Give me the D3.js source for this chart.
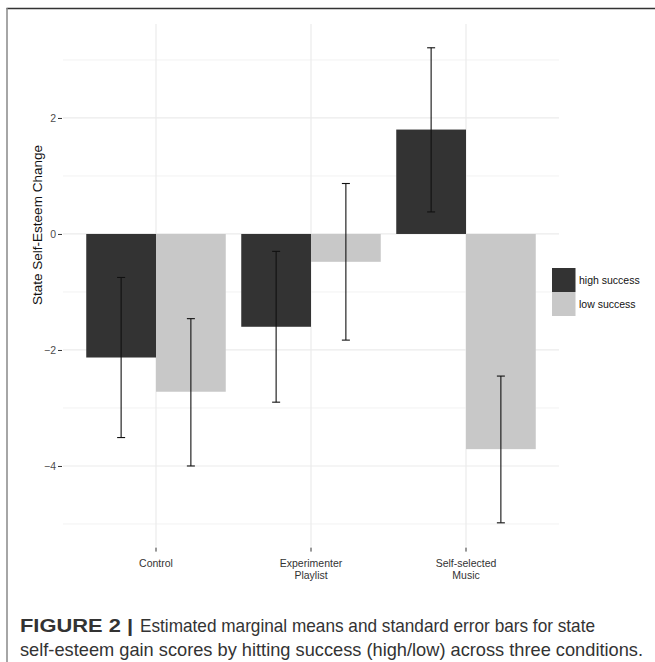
<!DOCTYPE html>
<html>
<head>
<meta charset="utf-8">
<script src="https://cdn.jsdelivr.net/npm/d3@7"></script>
<style>
  html, body { margin: 0; padding: 0; background: #fff; }
  svg { display: block; }
</style>
</head>
<body>
<script>
// ---- data ----
const categories = ["Control", "Experimenter\nPlaylist", "Self-selected\nMusic"];
const seriesNames = ["high success", "low success"];
const highMeans = [-2.13, -1.60, 1.80];
const highLower = [-3.51, -2.90, 0.38];
const highUpper = [-0.75, -0.30, 3.21];
const lowMeans = [-2.72, -0.48, -3.71];
const lowLower = [-4.00, -1.83, -4.98];
const lowUpper = [-1.46, 0.87, -2.45];
const yTicks = [-4, -2, 0, 2];
const yMinorTicks = [-5, -3, -1, 1, 3];

const W = 655, H = 662;
const svg = d3.select("body").append("svg").attr("width", W).attr("height", H);

// frame lines
svg.append("line").attr("x1", 6.5).attr("x2", W).attr("y1", 8.5).attr("y2", 8.5)
  .attr("stroke", "#333").attr("stroke-width", 1.5);
svg.append("line").attr("x1", 7).attr("x2", 7).attr("y1", 8).attr("y2", H)
  .attr("stroke", "#888").attr("stroke-width", 1.5);

const panel = {left: 63, right: 559, top: 24, bottom: 546.6};

const x = d3.scaleBand().domain(categories).range([panel.left, panel.right])
  .paddingInner(0.1).paddingOuter(0.15);
const xs = d3.scaleBand().domain(seriesNames).range([0, x.bandwidth()]);
const y = d3.scaleLinear().domain([-5.39, 3.62]).range([panel.bottom, panel.top]);
const color = d3.scaleOrdinal().domain(seriesNames).range(["#333333", "#c8c8c8"]);

// gridlines
const g = svg.append("g");
g.selectAll(".minor").data(yMinorTicks).join("line")
  .attr("x1", panel.left).attr("x2", panel.right)
  .attr("y1", d => y(d)).attr("y2", d => y(d))
  .attr("stroke", "#f2f2f2").attr("stroke-width", 1);
g.selectAll(".major").data(yTicks).join("line")
  .attr("x1", panel.left).attr("x2", panel.right)
  .attr("y1", d => y(d)).attr("y2", d => y(d))
  .attr("stroke", "#ebebeb").attr("stroke-width", 1.2);
g.selectAll(".vmajor").data(categories).join("line")
  .attr("x1", d => x(d) + x.bandwidth() / 2).attr("x2", d => x(d) + x.bandwidth() / 2)
  .attr("y1", panel.top).attr("y2", panel.bottom)
  .attr("stroke", "#ebebeb").attr("stroke-width", 1.2);

// bars
const rows = [];
categories.forEach((c, i) => {
  rows.push({cat: c, s: seriesNames[0], v: highMeans[i], lo: highLower[i], hi: highUpper[i]});
  rows.push({cat: c, s: seriesNames[1], v: lowMeans[i], lo: lowLower[i], hi: lowUpper[i]});
});
svg.append("g").selectAll("rect").data(rows).join("rect")
  .attr("x", d => x(d.cat) + xs(d.s))
  .attr("width", xs.bandwidth())
  .attr("y", d => y(Math.max(0, d.v)))
  .attr("height", d => Math.abs(y(d.v) - y(0)))
  .attr("fill", d => color(d.s));

// error bars
const eb = svg.append("g").attr("stroke", "#111").attr("stroke-width", 1.1);
rows.forEach(d => {
  const cx = x(d.cat) + xs(d.s) + xs.bandwidth() / 2;
  eb.append("line").attr("x1", cx).attr("x2", cx).attr("y1", y(d.lo)).attr("y2", y(d.hi));
  eb.append("line").attr("x1", cx - 4).attr("x2", cx + 4).attr("y1", y(d.lo)).attr("y2", y(d.lo));
  eb.append("line").attr("x1", cx - 4).attr("x2", cx + 4).attr("y1", y(d.hi)).attr("y2", y(d.hi));
});

// y axis
const yAxis = svg.append("g").attr("transform", `translate(${panel.left - 1},0)`)
  .call(d3.axisLeft(y).tickValues(yTicks).tickSize(4).tickPadding(2).tickFormat(d3.format("d")));
yAxis.select(".domain").remove();
yAxis.selectAll("line").attr("stroke", "#333");
yAxis.selectAll("text").attr("font-family", "Liberation Sans, Arial, sans-serif")
  .attr("font-size", 10.5).attr("fill", "#4d4d4d");

// x axis
const xAxis = svg.append("g").attr("transform", `translate(0,${panel.bottom + 1})`)
  .call(d3.axisBottom(x).tickSize(4).tickPadding(2).tickFormat(""));
xAxis.select(".domain").remove();
xAxis.selectAll("line").attr("stroke", "#333");
xAxis.selectAll(".tick").each(function(d) {
  const t = d3.select(this).append("text")
    .attr("font-family", "Liberation Sans, Arial, sans-serif")
    .attr("font-size", 10.5).attr("fill", "#333").attr("text-anchor", "middle");
  d.split("\n").forEach((line, i) => {
    t.append("tspan").attr("x", 0).attr("y", 19 + i * 12.5).text(line);
  });
});

// y axis title
svg.append("text")
  .attr("transform", "translate(42,225) rotate(-90)")
  .attr("text-anchor", "middle")
  .attr("font-family", "Liberation Sans, Arial, sans-serif")
  .attr("font-size", 13.5).attr("fill", "#111")
  .text("State Self-Esteem Change");

// legend
const leg = svg.append("g").attr("transform", "translate(552,268)");
seriesNames.forEach((s, i) => {
  leg.append("rect").attr("x", 0).attr("y", i * 24).attr("width", 23.5).attr("height", 24)
    .attr("fill", color(s));
  leg.append("text").attr("x", 27).attr("y", i * 24 + 12).attr("dy", "0.35em")
    .attr("font-family", "Liberation Sans, Arial, sans-serif")
    .attr("font-size", 10.5).attr("fill", "#111").text(s);
});

// caption
const cap = svg.append("g").attr("font-family", "Liberation Sans, Arial, sans-serif")
  .attr("font-size", 18.5).attr("fill", "#333");
cap.append("text").attr("x", 20).attr("y", 632).attr("font-weight", "bold")
  .attr("textLength", 113).attr("lengthAdjust", "spacingAndGlyphs").text("FIGURE 2 |");
cap.append("text").attr("x", 140).attr("y", 632)
  .attr("textLength", 455).attr("lengthAdjust", "spacingAndGlyphs")
  .text("Estimated marginal means and standard error bars for state");
cap.append("text").attr("x", 20).attr("y", 656)
  .attr("textLength", 623).attr("lengthAdjust", "spacingAndGlyphs")
  .text("self-esteem gain scores by hitting success (high/low) across three conditions.");
</script>
</body>
</html>
